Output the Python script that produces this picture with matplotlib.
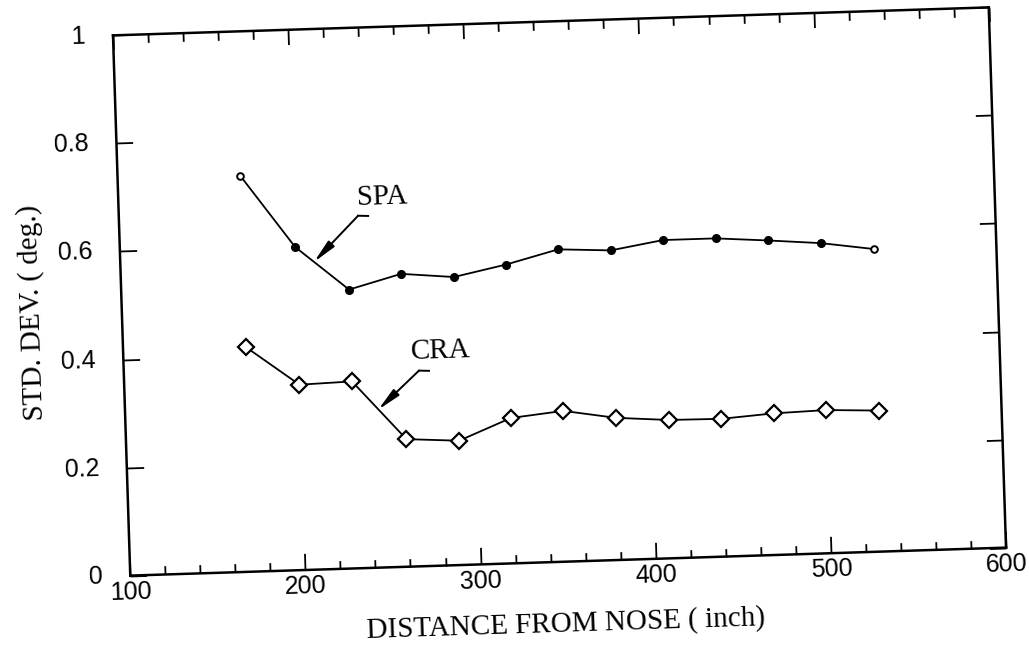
import numpy as np
import matplotlib
matplotlib.use("Agg")
import matplotlib.pyplot as plt
from matplotlib.transforms import Affine2D
from mpl_toolkits.axisartist import floating_axes
from mpl_toolkits.axisartist.grid_finder import FixedLocator, DictFormatter

# data
distance = [170, 200, 230, 260, 290, 320, 350, 380, 410, 440, 470, 500, 530]
spa = [0.733, 0.598, 0.516, 0.542, 0.533, 0.553, 0.578, 0.573, 0.589, 0.589, 0.582, 0.574, 0.560]
cra = [0.416, 0.343, 0.346, 0.236, 0.230, 0.269, 0.279, 0.263, 0.256, 0.255, 0.262, 0.265, 0.261]

x_major = [100, 200, 300, 400, 500, 600]
x_minor = [v for v in range(120, 600, 20) if v % 100]
y_major = [0, 0.2, 0.4, 0.6, 0.8, 1]
x_labels = ["100", "200", "300", "400", "500", "600"]
y_labels = ["0", "0.2", "0.4", "0.6", "0.8", "1"]

# the scan is tilted a little, so the whole frame is rotated
tilt = 1.83
tr = Affine2D().scale(1.754, 541).rotate_deg(tilt)

fig = plt.figure(figsize=(10.29, 6.45), dpi=100)

# frame bbox in pixels (top-left origin) and the 2% pad floating axes adds
fx0, fx1, fy0, fy1 = 113, 1006, 7, 576
cx, cy = (fx0 + fx1) / 2, 645 - (fy0 + fy1) / 2
w, h = (fx1 - fx0) * 1.02, (fy1 - fy0) * 1.02
rect = [(cx - w / 2) / 1029, (cy - h / 2) / 645, w / 1029, h / 645]


def make_axes(xlocs, xfmt):
    gh = floating_axes.GridHelperCurveLinear(
        tr, extremes=(100, 600, 0, 1),
        grid_locator1=FixedLocator(xlocs),
        grid_locator2=FixedLocator(y_major),
        tick_formatter1=DictFormatter(xfmt),
        tick_formatter2=DictFormatter(dict(zip(y_major, y_labels))))
    return fig.add_axes(rect, axes_class=floating_axes.FloatingAxes, grid_helper=gh)


ax = make_axes(x_major, dict(zip(x_major, x_labels)))
for side in ["left", "right", "top", "bottom"]:
    a = ax.axis[side]
    a.line.set_linewidth(1.8)
    a.major_ticks.set_ticksize(12)
    a.major_ticks.set_markeredgewidth(1.3)
    a.major_ticklabels.set_fontsize(18)
    a.major_ticklabels.set_fontfamily("Liberation Sans")
ax.axis["top"].major_ticks.set_ticksize(10.5)
ax.axis["top"].major_ticklabels.set_visible(False)
ax.axis["right"].major_ticklabels.set_visible(False)
ax.axis["left"].major_ticklabels.set_pad(20)
ax.axis["bottom"].major_ticklabels.set_pad(4)

# second overlay only for the short x ticks
ax_min = make_axes(x_minor, {})
ax_min.patch.set_visible(False)
for side in ["left", "right", "top", "bottom"]:
    a = ax_min.axis[side]
    a.line.set_visible(False)
    a.major_ticklabels.set_visible(False)
    a.major_ticks.set_ticksize(6)
    a.major_ticks.set_markeredgewidth(1.3)
for side in ["left", "right"]:
    ax_min.axis[side].major_ticks.set_visible(False)

aux = ax.get_aux_axes(tr)

aux.plot(distance, spa, color="black", lw=1.3)
aux.plot(distance[1:-1], spa[1:-1], "o", color="black", ms=5.5)
aux.plot([distance[0], distance[-1]], [spa[0], spa[-1]], "o", mfc="white",
         mec="black", mew=1.4, ms=4.8)

aux.plot(distance, cra, color="black", lw=1.3, marker="D", ms=8.3,
         mfc="white", mec="black", mew=1.6)

serif = "Liberation Serif"
arrow = dict(arrowstyle="-|>,head_length=1.4,head_width=0.25", color="black",
             lw=1.4, shrinkA=0, shrinkB=0)

aux.plot([236.5, 242.2], [0.652, 0.651], color="black", lw=1.4)
aux.annotate("", xy=(210.5, 0.569), xytext=(236.5, 0.652), arrowprops=arrow)
aux.text(250.5, 0.684, "SPA", ha="center", va="center", fontsize=21,
         family=serif, rotation=tilt)

aux.plot([268.4, 274.1], [0.362, 0.361], color="black", lw=1.4)
aux.annotate("", xy=(244.4, 0.292), xytext=(268.4, 0.362), arrowprops=arrow)
aux.text(281.2, 0.396, "CRA", ha="center", va="center", fontsize=21,
         family=serif, rotation=tilt)

fig.text(566 / 1029, 1 - 624 / 645, "DISTANCE FROM NOSE ( inch)", ha="center",
         va="center", fontsize=21, family=serif, rotation=tilt)
fig.text(32 / 1029, 1 - 313 / 645, "STD. DEV. ( deg.)", ha="center",
         va="center", fontsize=21, family=serif, rotation=90 + tilt)

fig.savefig("out.png", dpi=100)
